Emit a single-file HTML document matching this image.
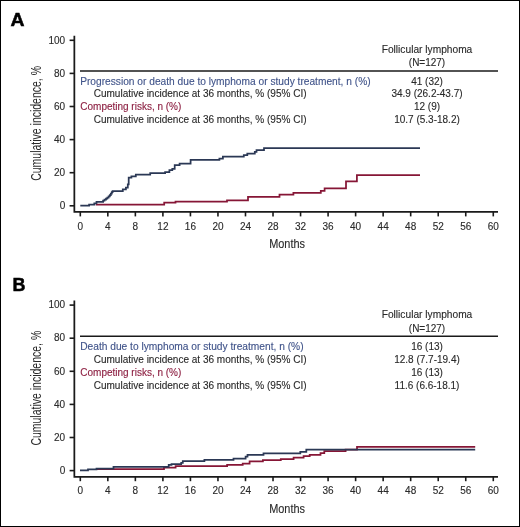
<!DOCTYPE html>
<html><head><meta charset="utf-8"><style>
html,body{margin:0;padding:0;background:#fff;width:520px;height:527px;overflow:hidden;}
svg{display:block;will-change:transform;}
svg{font-family:"Liberation Sans",sans-serif;}
</style></head><body>
<svg width="520" height="527" viewBox="0 0 520 527" font-family="Liberation Sans, sans-serif">
<rect x="0" y="0" width="520" height="527" fill="#fff"/>
<text x="10.4" y="25.8" font-size="18.4" font-weight="bold" textLength="14.0" lengthAdjust="spacingAndGlyphs" fill="#000" stroke="#000" stroke-width="0.5">A</text>
<path d="M74.35,35.7V211.9H498" fill="none" stroke="#1a1a1a" stroke-width="1.75"/>
<line x1="69.6" x2="74" y1="205.80" y2="205.80" stroke="#1a1a1a" stroke-width="1.6"/>
<text x="65.2" y="209.00" font-size="10" text-anchor="end" fill="#2a2a2a" stroke="#2a2a2a" stroke-width="0.12">0</text>
<line x1="69.6" x2="74" y1="172.70" y2="172.70" stroke="#1a1a1a" stroke-width="1.6"/>
<text x="65.2" y="175.90" font-size="10" text-anchor="end" fill="#2a2a2a" stroke="#2a2a2a" stroke-width="0.12">20</text>
<line x1="69.6" x2="74" y1="139.60" y2="139.60" stroke="#1a1a1a" stroke-width="1.6"/>
<text x="65.2" y="142.80" font-size="10" text-anchor="end" fill="#2a2a2a" stroke="#2a2a2a" stroke-width="0.12">40</text>
<line x1="69.6" x2="74" y1="106.50" y2="106.50" stroke="#1a1a1a" stroke-width="1.6"/>
<text x="65.2" y="109.70" font-size="10" text-anchor="end" fill="#2a2a2a" stroke="#2a2a2a" stroke-width="0.12">60</text>
<line x1="69.6" x2="74" y1="73.40" y2="73.40" stroke="#1a1a1a" stroke-width="1.6"/>
<text x="65.2" y="76.60" font-size="10" text-anchor="end" fill="#2a2a2a" stroke="#2a2a2a" stroke-width="0.12">80</text>
<line x1="69.6" x2="74" y1="40.30" y2="40.30" stroke="#1a1a1a" stroke-width="1.6"/>
<text x="65.2" y="43.50" font-size="10" text-anchor="end" fill="#2a2a2a" stroke="#2a2a2a" stroke-width="0.12">100</text>
<line x1="80.30" x2="80.30" y1="212.0" y2="216.4" stroke="#1a1a1a" stroke-width="1.6"/>
<text x="80.30" y="229.6" font-size="10" text-anchor="middle" fill="#2a2a2a" stroke="#2a2a2a" stroke-width="0.12">0</text>
<line x1="107.83" x2="107.83" y1="212.0" y2="216.4" stroke="#1a1a1a" stroke-width="1.6"/>
<text x="107.83" y="229.6" font-size="10" text-anchor="middle" fill="#2a2a2a" stroke="#2a2a2a" stroke-width="0.12">4</text>
<line x1="135.36" x2="135.36" y1="212.0" y2="216.4" stroke="#1a1a1a" stroke-width="1.6"/>
<text x="135.36" y="229.6" font-size="10" text-anchor="middle" fill="#2a2a2a" stroke="#2a2a2a" stroke-width="0.12">8</text>
<line x1="162.90" x2="162.90" y1="212.0" y2="216.4" stroke="#1a1a1a" stroke-width="1.6"/>
<text x="162.90" y="229.6" font-size="10" text-anchor="middle" fill="#2a2a2a" stroke="#2a2a2a" stroke-width="0.12">12</text>
<line x1="190.43" x2="190.43" y1="212.0" y2="216.4" stroke="#1a1a1a" stroke-width="1.6"/>
<text x="190.43" y="229.6" font-size="10" text-anchor="middle" fill="#2a2a2a" stroke="#2a2a2a" stroke-width="0.12">16</text>
<line x1="217.96" x2="217.96" y1="212.0" y2="216.4" stroke="#1a1a1a" stroke-width="1.6"/>
<text x="217.96" y="229.6" font-size="10" text-anchor="middle" fill="#2a2a2a" stroke="#2a2a2a" stroke-width="0.12">20</text>
<line x1="245.49" x2="245.49" y1="212.0" y2="216.4" stroke="#1a1a1a" stroke-width="1.6"/>
<text x="245.49" y="229.6" font-size="10" text-anchor="middle" fill="#2a2a2a" stroke="#2a2a2a" stroke-width="0.12">24</text>
<line x1="273.02" x2="273.02" y1="212.0" y2="216.4" stroke="#1a1a1a" stroke-width="1.6"/>
<text x="273.02" y="229.6" font-size="10" text-anchor="middle" fill="#2a2a2a" stroke="#2a2a2a" stroke-width="0.12">28</text>
<line x1="300.56" x2="300.56" y1="212.0" y2="216.4" stroke="#1a1a1a" stroke-width="1.6"/>
<text x="300.56" y="229.6" font-size="10" text-anchor="middle" fill="#2a2a2a" stroke="#2a2a2a" stroke-width="0.12">32</text>
<line x1="328.09" x2="328.09" y1="212.0" y2="216.4" stroke="#1a1a1a" stroke-width="1.6"/>
<text x="328.09" y="229.6" font-size="10" text-anchor="middle" fill="#2a2a2a" stroke="#2a2a2a" stroke-width="0.12">36</text>
<line x1="355.62" x2="355.62" y1="212.0" y2="216.4" stroke="#1a1a1a" stroke-width="1.6"/>
<text x="355.62" y="229.6" font-size="10" text-anchor="middle" fill="#2a2a2a" stroke="#2a2a2a" stroke-width="0.12">40</text>
<line x1="383.15" x2="383.15" y1="212.0" y2="216.4" stroke="#1a1a1a" stroke-width="1.6"/>
<text x="383.15" y="229.6" font-size="10" text-anchor="middle" fill="#2a2a2a" stroke="#2a2a2a" stroke-width="0.12">44</text>
<line x1="410.68" x2="410.68" y1="212.0" y2="216.4" stroke="#1a1a1a" stroke-width="1.6"/>
<text x="410.68" y="229.6" font-size="10" text-anchor="middle" fill="#2a2a2a" stroke="#2a2a2a" stroke-width="0.12">48</text>
<line x1="438.22" x2="438.22" y1="212.0" y2="216.4" stroke="#1a1a1a" stroke-width="1.6"/>
<text x="438.22" y="229.6" font-size="10" text-anchor="middle" fill="#2a2a2a" stroke="#2a2a2a" stroke-width="0.12">52</text>
<line x1="465.75" x2="465.75" y1="212.0" y2="216.4" stroke="#1a1a1a" stroke-width="1.6"/>
<text x="465.75" y="229.6" font-size="10" text-anchor="middle" fill="#2a2a2a" stroke="#2a2a2a" stroke-width="0.12">56</text>
<line x1="493.28" x2="493.28" y1="212.0" y2="216.4" stroke="#1a1a1a" stroke-width="1.6"/>
<text x="493.28" y="229.6" font-size="10" text-anchor="middle" fill="#2a2a2a" stroke="#2a2a2a" stroke-width="0.12">60</text>
<text x="287.1" y="248.4" font-size="13" text-anchor="middle" textLength="35.8" lengthAdjust="spacingAndGlyphs" fill="#2a2a2a" stroke="#2a2a2a" stroke-width="0.12">Months</text>
<text transform="translate(40.9,123.4) rotate(-90)" x="0" y="0" font-size="14.5" text-anchor="middle" textLength="114.8" lengthAdjust="spacingAndGlyphs" fill="#2a2a2a">Cumulative incidence, %</text>
<text x="427" y="52.5" font-size="10" text-anchor="middle" textLength="90.6" lengthAdjust="spacingAndGlyphs" fill="#2a2a2a" stroke="#2a2a2a" stroke-width="0.12">Follicular lymphoma</text>
<text x="427" y="65.6" font-size="10" text-anchor="middle" fill="#2a2a2a" stroke="#2a2a2a" stroke-width="0.12">(N=127)</text>
<line x1="80" x2="498" y1="71.0" y2="71.0" stroke="#1a1a1a" stroke-width="1.6"/>
<text x="80.2" y="84.8" font-size="10" fill="#40548a" textLength="290.4" lengthAdjust="spacingAndGlyphs" stroke="#40548a" stroke-width="0.12">Progression or death due to lymphoma or study treatment, n (%)</text>
<text x="427" y="84.8" font-size="10" text-anchor="middle" fill="#2a2a2a" stroke="#2a2a2a" stroke-width="0.12">41 (32)</text>
<text x="93.7" y="97.3" font-size="10" fill="#2a2a2a" textLength="212.9" lengthAdjust="spacingAndGlyphs" stroke="#2a2a2a" stroke-width="0.12">Cumulative incidence at 36 months, % (95% CI)</text>
<text x="427" y="97.3" font-size="10" text-anchor="middle" fill="#2a2a2a" stroke="#2a2a2a" stroke-width="0.12">34.9 (26.2-43.7)</text>
<text x="80.3" y="110.2" font-size="10" fill="#8c1e40" textLength="101.0" lengthAdjust="spacingAndGlyphs" stroke="#8c1e40" stroke-width="0.12">Competing risks, n (%)</text>
<text x="427" y="110.2" font-size="10" text-anchor="middle" fill="#2a2a2a" stroke="#2a2a2a" stroke-width="0.12">12 (9)</text>
<text x="93.7" y="123.0" font-size="10" fill="#2a2a2a" textLength="212.9" lengthAdjust="spacingAndGlyphs" stroke="#2a2a2a" stroke-width="0.12">Cumulative incidence at 36 months, % (95% CI)</text>
<text x="427" y="123.0" font-size="10" text-anchor="middle" fill="#2a2a2a" stroke="#2a2a2a" stroke-width="0.12">10.7 (5.3-18.2)</text>
<text x="12.5" y="290.5" font-size="17.9" font-weight="bold" fill="#000" stroke="#000" stroke-width="0.5">B</text>
<path d="M74.35,300.5V476.8H498" fill="none" stroke="#1a1a1a" stroke-width="1.75"/>
<line x1="69.6" x2="74" y1="470.60" y2="470.60" stroke="#1a1a1a" stroke-width="1.6"/>
<text x="65.2" y="473.80" font-size="10" text-anchor="end" fill="#2a2a2a" stroke="#2a2a2a" stroke-width="0.12">0</text>
<line x1="69.6" x2="74" y1="437.50" y2="437.50" stroke="#1a1a1a" stroke-width="1.6"/>
<text x="65.2" y="440.70" font-size="10" text-anchor="end" fill="#2a2a2a" stroke="#2a2a2a" stroke-width="0.12">20</text>
<line x1="69.6" x2="74" y1="404.40" y2="404.40" stroke="#1a1a1a" stroke-width="1.6"/>
<text x="65.2" y="407.60" font-size="10" text-anchor="end" fill="#2a2a2a" stroke="#2a2a2a" stroke-width="0.12">40</text>
<line x1="69.6" x2="74" y1="371.30" y2="371.30" stroke="#1a1a1a" stroke-width="1.6"/>
<text x="65.2" y="374.50" font-size="10" text-anchor="end" fill="#2a2a2a" stroke="#2a2a2a" stroke-width="0.12">60</text>
<line x1="69.6" x2="74" y1="338.20" y2="338.20" stroke="#1a1a1a" stroke-width="1.6"/>
<text x="65.2" y="341.40" font-size="10" text-anchor="end" fill="#2a2a2a" stroke="#2a2a2a" stroke-width="0.12">80</text>
<line x1="69.6" x2="74" y1="305.10" y2="305.10" stroke="#1a1a1a" stroke-width="1.6"/>
<text x="65.2" y="308.30" font-size="10" text-anchor="end" fill="#2a2a2a" stroke="#2a2a2a" stroke-width="0.12">100</text>
<line x1="80.30" x2="80.30" y1="476.8" y2="481.2" stroke="#1a1a1a" stroke-width="1.6"/>
<text x="80.30" y="494.4" font-size="10" text-anchor="middle" fill="#2a2a2a" stroke="#2a2a2a" stroke-width="0.12">0</text>
<line x1="107.83" x2="107.83" y1="476.8" y2="481.2" stroke="#1a1a1a" stroke-width="1.6"/>
<text x="107.83" y="494.4" font-size="10" text-anchor="middle" fill="#2a2a2a" stroke="#2a2a2a" stroke-width="0.12">4</text>
<line x1="135.36" x2="135.36" y1="476.8" y2="481.2" stroke="#1a1a1a" stroke-width="1.6"/>
<text x="135.36" y="494.4" font-size="10" text-anchor="middle" fill="#2a2a2a" stroke="#2a2a2a" stroke-width="0.12">8</text>
<line x1="162.90" x2="162.90" y1="476.8" y2="481.2" stroke="#1a1a1a" stroke-width="1.6"/>
<text x="162.90" y="494.4" font-size="10" text-anchor="middle" fill="#2a2a2a" stroke="#2a2a2a" stroke-width="0.12">12</text>
<line x1="190.43" x2="190.43" y1="476.8" y2="481.2" stroke="#1a1a1a" stroke-width="1.6"/>
<text x="190.43" y="494.4" font-size="10" text-anchor="middle" fill="#2a2a2a" stroke="#2a2a2a" stroke-width="0.12">16</text>
<line x1="217.96" x2="217.96" y1="476.8" y2="481.2" stroke="#1a1a1a" stroke-width="1.6"/>
<text x="217.96" y="494.4" font-size="10" text-anchor="middle" fill="#2a2a2a" stroke="#2a2a2a" stroke-width="0.12">20</text>
<line x1="245.49" x2="245.49" y1="476.8" y2="481.2" stroke="#1a1a1a" stroke-width="1.6"/>
<text x="245.49" y="494.4" font-size="10" text-anchor="middle" fill="#2a2a2a" stroke="#2a2a2a" stroke-width="0.12">24</text>
<line x1="273.02" x2="273.02" y1="476.8" y2="481.2" stroke="#1a1a1a" stroke-width="1.6"/>
<text x="273.02" y="494.4" font-size="10" text-anchor="middle" fill="#2a2a2a" stroke="#2a2a2a" stroke-width="0.12">28</text>
<line x1="300.56" x2="300.56" y1="476.8" y2="481.2" stroke="#1a1a1a" stroke-width="1.6"/>
<text x="300.56" y="494.4" font-size="10" text-anchor="middle" fill="#2a2a2a" stroke="#2a2a2a" stroke-width="0.12">32</text>
<line x1="328.09" x2="328.09" y1="476.8" y2="481.2" stroke="#1a1a1a" stroke-width="1.6"/>
<text x="328.09" y="494.4" font-size="10" text-anchor="middle" fill="#2a2a2a" stroke="#2a2a2a" stroke-width="0.12">36</text>
<line x1="355.62" x2="355.62" y1="476.8" y2="481.2" stroke="#1a1a1a" stroke-width="1.6"/>
<text x="355.62" y="494.4" font-size="10" text-anchor="middle" fill="#2a2a2a" stroke="#2a2a2a" stroke-width="0.12">40</text>
<line x1="383.15" x2="383.15" y1="476.8" y2="481.2" stroke="#1a1a1a" stroke-width="1.6"/>
<text x="383.15" y="494.4" font-size="10" text-anchor="middle" fill="#2a2a2a" stroke="#2a2a2a" stroke-width="0.12">44</text>
<line x1="410.68" x2="410.68" y1="476.8" y2="481.2" stroke="#1a1a1a" stroke-width="1.6"/>
<text x="410.68" y="494.4" font-size="10" text-anchor="middle" fill="#2a2a2a" stroke="#2a2a2a" stroke-width="0.12">48</text>
<line x1="438.22" x2="438.22" y1="476.8" y2="481.2" stroke="#1a1a1a" stroke-width="1.6"/>
<text x="438.22" y="494.4" font-size="10" text-anchor="middle" fill="#2a2a2a" stroke="#2a2a2a" stroke-width="0.12">52</text>
<line x1="465.75" x2="465.75" y1="476.8" y2="481.2" stroke="#1a1a1a" stroke-width="1.6"/>
<text x="465.75" y="494.4" font-size="10" text-anchor="middle" fill="#2a2a2a" stroke="#2a2a2a" stroke-width="0.12">56</text>
<line x1="493.28" x2="493.28" y1="476.8" y2="481.2" stroke="#1a1a1a" stroke-width="1.6"/>
<text x="493.28" y="494.4" font-size="10" text-anchor="middle" fill="#2a2a2a" stroke="#2a2a2a" stroke-width="0.12">60</text>
<text x="287.1" y="513.2" font-size="13" text-anchor="middle" textLength="35.8" lengthAdjust="spacingAndGlyphs" fill="#2a2a2a" stroke="#2a2a2a" stroke-width="0.12">Months</text>
<text transform="translate(40.9,388.2) rotate(-90)" x="0" y="0" font-size="14.5" text-anchor="middle" textLength="114.8" lengthAdjust="spacingAndGlyphs" fill="#2a2a2a">Cumulative incidence, %</text>
<text x="427" y="318.4" font-size="10" text-anchor="middle" textLength="90.6" lengthAdjust="spacingAndGlyphs" fill="#2a2a2a" stroke="#2a2a2a" stroke-width="0.12">Follicular lymphoma</text>
<text x="427" y="331.5" font-size="10" text-anchor="middle" fill="#2a2a2a" stroke="#2a2a2a" stroke-width="0.12">(N=127)</text>
<line x1="80" x2="498" y1="336.3" y2="336.3" stroke="#1a1a1a" stroke-width="1.6"/>
<text x="80.2" y="350.0" font-size="10" fill="#40548a" textLength="223.4" lengthAdjust="spacingAndGlyphs" stroke="#40548a" stroke-width="0.12">Death due to lymphoma or study treatment, n (%)</text>
<text x="427" y="350.0" font-size="10" text-anchor="middle" fill="#2a2a2a" stroke="#2a2a2a" stroke-width="0.12">16 (13)</text>
<text x="93.7" y="363.0" font-size="10" fill="#2a2a2a" textLength="212.9" lengthAdjust="spacingAndGlyphs" stroke="#2a2a2a" stroke-width="0.12">Cumulative incidence at 36 months, % (95% CI)</text>
<text x="427" y="363.0" font-size="10" text-anchor="middle" fill="#2a2a2a" stroke="#2a2a2a" stroke-width="0.12">12.8 (7.7-19.4)</text>
<text x="80.3" y="376.0" font-size="10" fill="#8c1e40" textLength="101.0" lengthAdjust="spacingAndGlyphs" stroke="#8c1e40" stroke-width="0.12">Competing risks, n (%)</text>
<text x="427" y="376.0" font-size="10" text-anchor="middle" fill="#2a2a2a" stroke="#2a2a2a" stroke-width="0.12">16 (13)</text>
<text x="93.7" y="389.2" font-size="10" fill="#2a2a2a" textLength="212.9" lengthAdjust="spacingAndGlyphs" stroke="#2a2a2a" stroke-width="0.12">Cumulative incidence at 36 months, % (95% CI)</text>
<text x="427" y="389.2" font-size="10" text-anchor="middle" fill="#2a2a2a" stroke="#2a2a2a" stroke-width="0.12">11.6 (6.6-18.1)</text>
<path d="M95.8,204.6H164.2V202.7H175.5V201.7H227.0V200.4H248.0V196.8H279.5V194.6H293.4V192.8H320.8V190.8H324.6V188.3H346.0V181.3H356.9V175.0H420.0" fill="none" stroke="#861636" stroke-width="1.75"/>
<path d="M80.3,205.6H89.1V204.6H94.3V203.4H96.5V201.8H103.1V200.6H104.5V199.7H106.0V198.7H107.3V197.6H108.6V196.4H109.8V195.1H110.8V193.6H111.8V192.2H112.6V191.0H122.8V189.3H125.9V187.7H127.8V184.3H128.7V177.6H131.4V176.3H135.8V174.6H150.2V173.2H165.1V172.2H169.4V170.0H172.3V168.8H174.7V165.2H179.6V163.5H190.6V159.8H219.4V158.6H222.9V156.5H243.8V155.1H247.3V153.6H254.8V151.8H256.5V150.1H264.0V148.2H420.0" fill="none" stroke="#2b3855" stroke-width="1.75"/>
<path d="M96.5,469.2H164.0V467.5H175.6V466.2H227.1V464.8H242.7V463.5H249.6V461.4H262.9V460.1H280.8V459.1H293.6V457.5H303.6V456.2H309.7V454.8H320.5V453.2H324.3V451.0H345.6V449.5H357.0V446.9H475.2" fill="none" stroke="#861636" stroke-width="1.75"/>
<path d="M80.0,470.3H88.0V469.4H96.5V468.6H113.5V466.9H168.7V464.8H171.5V464.0H181.2V462.9H182.8V461.0H204.4V459.8H233.5V458.6H245.6V456.6H247.5V454.8H263.5V453.3H300.3V451.8H306.3V449.6H475.2" fill="none" stroke="#2b3855" stroke-width="1.75"/>
<rect x="0.5" y="0.5" width="519" height="526" fill="none" stroke="#000" stroke-width="1"/>
</svg>
</body></html>
